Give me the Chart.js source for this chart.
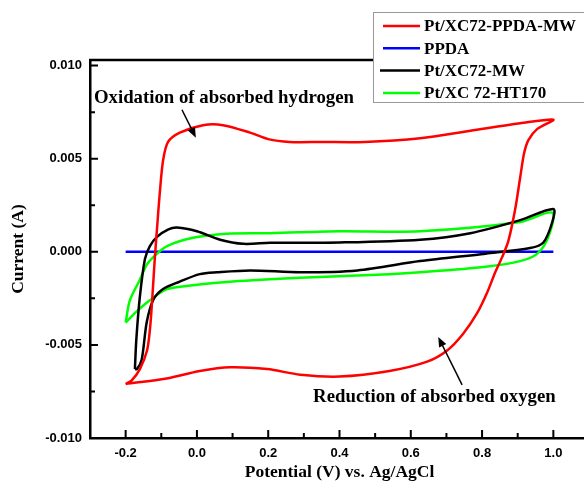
<!DOCTYPE html>
<html>
<head>
<meta charset="utf-8">
<script src="https://cdn.jsdelivr.net/npm/chart.js@4.4.1/dist/chart.umd.min.js"></script>
<style>
  html, body { margin: 0; padding: 0; background: #fff; overflow: hidden; }
  #wrap { width: 589px; height: 484px; }
</style>
</head>
<body>
<div id="wrap"><canvas id="cv"></canvas></div>
<script>
// potential (V) / current (A), each loop in sweep order
const redV = [-0.2, -0.183, -0.16, -0.14, -0.132, -0.127, -0.122, -0.118, -0.111, -0.104, -0.095, -0.081, -0.048, 0.017, 0.073, 0.149, 0.2, 0.26, 0.35, 0.47, 0.626, 0.767, 0.907, 1.0,
              0.955, 0.93, 0.918, 0.907, 0.893, 0.874, 0.856, 0.837, 0.814, 0.786, 0.747, 0.702, 0.646, 0.54, 0.4, 0.29, 0.197, 0.093, 0.008, -0.085, -0.2];
const redI = [-0.0071, -0.0069, -0.0063, -0.0053, -0.0042, -0.0030, -0.0015, -0.0003, 0.0015, 0.0032, 0.0049, 0.0059, 0.0064, 0.0068, 0.0068, 0.0064, 0.00605, 0.0059, 0.0059, 0.0059, 0.0061, 0.0065, 0.0069, 0.0071,
              0.0066, 0.0060, 0.0053, 0.0040, 0.0023, 0.0006, -0.0003, -0.0011, -0.0022, -0.0033, -0.0044, -0.0053, -0.0059, -0.0064, -0.0067, -0.0066, -0.0063, -0.0062, -0.0064, -0.0068, -0.0071];

const blueV = [-0.2, 0.4, 1.0];
const blueI = [0.0, 0.0, 0.0];

const blackV = [-0.174, -0.17, -0.16, -0.146, -0.132, -0.112, -0.08, -0.056, 0.0, 0.065, 0.13, 0.205, 0.4, 0.626, 0.767, 0.907, 1.0,
                0.997, 0.972, 0.935, 0.81, 0.626, 0.45, 0.29, 0.15, 0.056, 0.008, -0.048, -0.095, -0.123, -0.141, -0.155, -0.168, -0.174];
const blackI = [-0.0063, -0.0047, -0.0024, -0.0004, 0.0003, 0.0008, 0.0012, 0.0013, 0.0011, 0.00065, 0.00043, 0.00048, 0.0005, 0.00065, 0.0010, 0.0017, 0.0023,
                0.0016, 0.0005, 0.0002, -0.0001, -0.0005, -0.0010, -0.0011, -0.0010, -0.0011, -0.0012, -0.0016, -0.0020, -0.0026, -0.0038, -0.0058, -0.0063, -0.0063];

const greenV = [-0.2, -0.188, -0.16, -0.141, -0.123, -0.084, -0.011, 0.084, 0.205, 0.4, 0.626, 0.907, 0.997,
                0.986, 0.955, 0.907, 0.81, 0.626, 0.54, 0.29, 0.1, -0.011, -0.084, -0.132, -0.169, -0.2];
const greenI = [-0.0038, -0.0026, -0.0015, -0.0007, -0.0003, 0.0003, 0.00075, 0.00097, 0.0010, 0.0011, 0.0011, 0.0016, 0.0021,
                0.0008, -0.0001, -0.0005, -0.0008, -0.0011, -0.0012, -0.0014, -0.0016, -0.0018, -0.0020, -0.0026, -0.0032, -0.0038];

const seriesNames = ['Pt/XC72-PPDA-MW', 'PPDA', 'Pt/XC72-MW', 'Pt/XC 72-HT170'];
const seriesColors = ['#ff0000', '#0000ff', '#000000', '#00ff00'];

const xTicks = [-0.2, 0.0, 0.2, 0.4, 0.6, 0.8, 1.0];
const xMinor = [-0.1, 0.1, 0.3, 0.5, 0.7, 0.9];
const yTicks = [-0.010, -0.005, 0.000, 0.005, 0.010];
const yMinor = [-0.0075, -0.0025, 0.0025, 0.0075];

// annotations, in data units
const notes = [
    { text: 'Oxidation of absorbed hydrogen', x: -0.289, y: 0.00823, from: [-0.042, 0.00763], to: [-0.003, 0.00613] },
    { text: 'Reduction of absorbed oxygen', x: 0.326, y: -0.0078, from: [0.744, -0.00715], to: [0.677, -0.00457] }
];

function pts(xs, ys) {
    return xs.map((x, i) => ({ x: x, y: ys[i] }));
}

const serif = '"Liberation Serif", "Times New Roman", serif';
const sans = '"Liberation Sans", Arial, sans-serif';

const framePlugin = {
    id: 'frame',
    afterDraw(chart) {
        const ctx = chart.ctx;
        const a = chart.chartArea;
        const sx = chart.scales.x, sy = chart.scales.y;
        ctx.save();
        ctx.strokeStyle = '#000';
        ctx.lineWidth = 2;
        // inward ticks
        ctx.beginPath();
        xTicks.forEach(v => { const p = sx.getPixelForValue(v); ctx.moveTo(p, a.bottom); ctx.lineTo(p, a.bottom - 8); });
        xMinor.forEach(v => { const p = sx.getPixelForValue(v); ctx.moveTo(p, a.bottom); ctx.lineTo(p, a.bottom - 5); });
        yTicks.forEach(v => { const p = sy.getPixelForValue(v); ctx.moveTo(a.left, p); ctx.lineTo(a.left + 8, p); });
        yMinor.forEach(v => { const p = sy.getPixelForValue(v); ctx.moveTo(a.left, p); ctx.lineTo(a.left + 5, p); });
        ctx.stroke();
        // top border
        ctx.lineWidth = 2.5;
        ctx.beginPath();
        ctx.moveTo(a.left - 1, a.top);
        ctx.lineTo(a.right, a.top);
        ctx.stroke();

        // annotations
        ctx.fillStyle = '#000';
        ctx.font = 'bold 18.8px ' + serif;
        ctx.textBaseline = 'middle';
        ctx.textAlign = 'left';
        notes.forEach(n => {
            ctx.fillText(n.text, sx.getPixelForValue(n.x), sy.getPixelForValue(n.y));
            const x0 = sx.getPixelForValue(n.from[0]), y0 = sy.getPixelForValue(n.from[1]);
            const x1 = sx.getPixelForValue(n.to[0]), y1 = sy.getPixelForValue(n.to[1]);
            const ang = Math.atan2(y1 - y0, x1 - x0);
            ctx.lineWidth = 1.5;
            ctx.beginPath();
            ctx.moveTo(x0, y0);
            ctx.lineTo(x1 - 6 * Math.cos(ang), y1 - 6 * Math.sin(ang));
            ctx.stroke();
            ctx.beginPath();
            ctx.moveTo(x1, y1);
            ctx.lineTo(x1 - 10 * Math.cos(ang) + 4 * Math.sin(ang), y1 - 10 * Math.sin(ang) - 4 * Math.cos(ang));
            ctx.lineTo(x1 - 10 * Math.cos(ang) - 4 * Math.sin(ang), y1 - 10 * Math.sin(ang) + 4 * Math.cos(ang));
            ctx.closePath();
            ctx.fill();
        });

        // legend box
        const bx = 373, by = 12, bw = 230, bh = 90;
        ctx.fillStyle = '#fff';
        ctx.fillRect(bx, by, bw, bh);
        ctx.strokeStyle = '#999';
        ctx.lineWidth = 1;
        ctx.strokeRect(bx + 0.5, by + 0.5, bw, bh);
        ctx.font = 'bold 17px ' + serif;
        seriesNames.forEach((name, i) => {
            const y = 26 + i * 22.3;
            ctx.strokeStyle = seriesColors[i];
            ctx.lineWidth = 2.5;
            ctx.beginPath();
            ctx.moveTo(i === 2 ? 380 : 383, y);
            ctx.lineTo(420, y);
            ctx.stroke();
            ctx.fillStyle = '#000';
            ctx.fillText(name, 424, y + 1);
        });
        ctx.restore();
    }
};

new Chart(document.getElementById('cv'), {
    type: 'scatter',
    data: {
        datasets: [
            { label: seriesNames[0], data: pts(redV, redI), borderColor: seriesColors[0] },
            { label: seriesNames[2], data: pts(blackV, blackI), borderColor: seriesColors[2] },
            { label: seriesNames[3], data: pts(greenV, greenI), borderColor: seriesColors[3] },
            { label: seriesNames[1], data: pts(blueV, blueI), borderColor: seriesColors[1] }
        ].map(d => Object.assign(d, { showLine: true, pointRadius: 0, borderWidth: 2.5, tension: 0.3, fill: false }))
    },
    options: {
        responsive: true,
        maintainAspectRatio: false,
        animation: false,
        layout: { padding: { top: 60, right: 0, left: 0, bottom: 0 } },
        plugins: { legend: { display: false }, tooltip: { enabled: false } },
        scales: {
            x: {
                type: 'linear',
                min: -0.3,
                max: 1.1,
                afterFit: s => { s.height = 46; },
                afterBuildTicks: s => { s.ticks = xTicks.map(v => ({ value: v })); },
                grid: { display: false, drawTicks: false },
                border: { display: true, color: '#000', width: 2.5 },
                ticks: {
                    color: '#000',
                    padding: 8,
                    font: { family: sans, weight: 'bold', size: 13 },
                    callback: v => v.toFixed(1)
                },
                title: {
                    display: true,
                    text: 'Potential (V) vs. Ag/AgCl',
                    color: '#000',
                    font: { family: serif, weight: 'bold', size: 17.5 },
                    padding: { top: 0, bottom: 1 }
                }
            },
            y: {
                type: 'linear',
                min: -0.010,
                max: 0.0103,
                afterFit: s => { s.width = 90; },
                afterBuildTicks: s => { s.ticks = yTicks.map(v => ({ value: v })); },
                grid: { display: false, drawTicks: false },
                border: { display: true, color: '#000', width: 2.5 },
                ticks: {
                    color: '#000',
                    padding: 8,
                    font: { family: sans, weight: 'bold', size: 13 },
                    callback: v => v.toFixed(3)
                },
                title: {
                    display: true,
                    text: 'Current (A)',
                    color: '#000',
                    font: { family: serif, weight: 'bold', size: 17.5 },
                    padding: { top: 8, bottom: 0 }
                }
            }
        }
    },
    plugins: [framePlugin]
});
</script>
</body>
</html>
